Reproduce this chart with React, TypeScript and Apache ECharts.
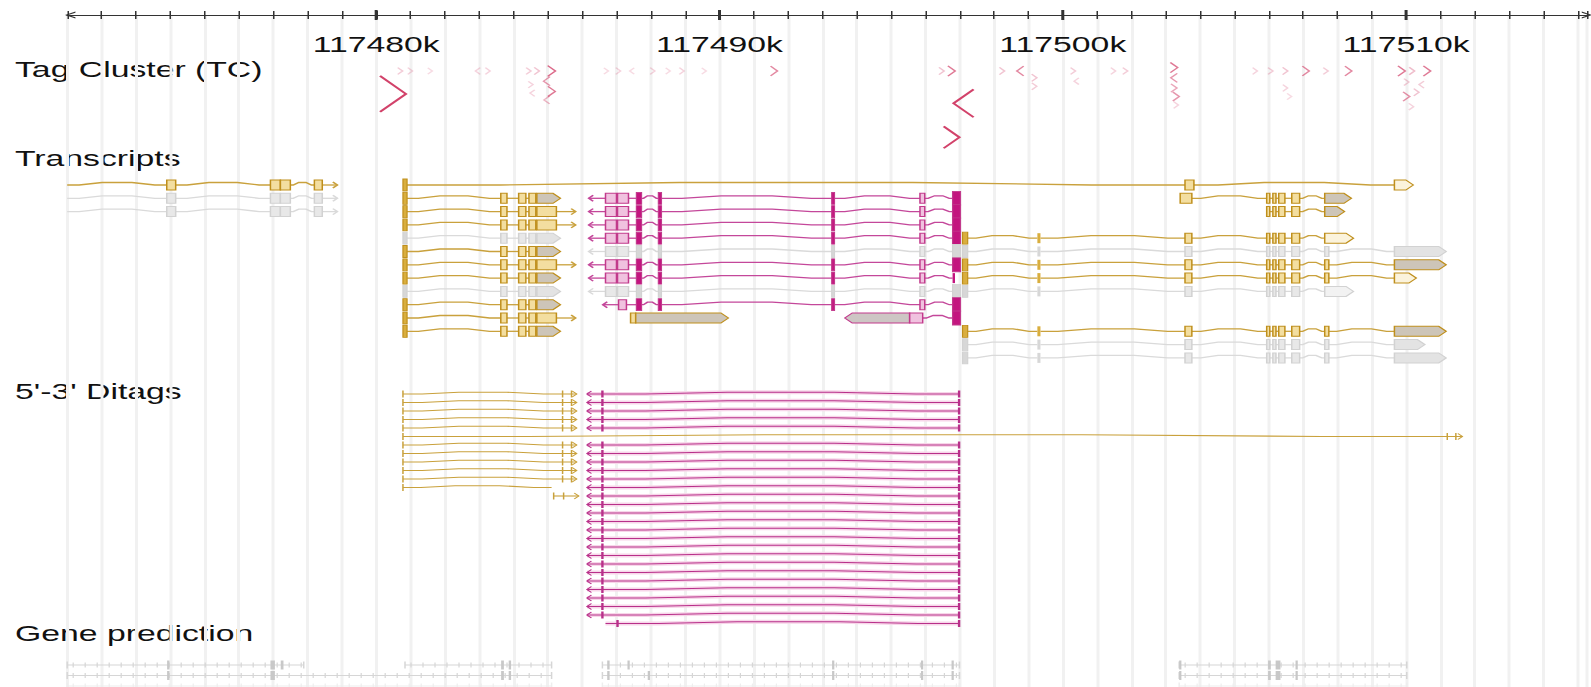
import React, { useEffect, useRef } from 'react';
import * as echarts from 'echarts';

type Exon = [number, number, string];

// ---------------- data ----------------
const AXIS_MIN = 117471;
const AXIS_MAX = 117515.27;
const majorTicks = [117480, 117490, 117500, 117510];
const trackNames = ['Tag Cluster (TC)', 'Transcripts', "5'-3' Ditags", 'Gene prediction'];

// tag clusters: [position kb, stack level, strand, tag count]
const tagClusters: [number, number, number, number][] = [
  [117480.49, 2.7, 1, 100], [117480.70, 0, 1, 3], [117480.99, 0, 1, 2], [117481.57, 0, 1, 1],
  [117482.96, 0, -1, 2], [117483.25, 0, 1, 2], [117484.44, 0, 1, 3], [117484.68, 0, 1, 4],
  [117485.11, 0, 1, 16], [117484.97, 1.2, -1, 10], [117485.11, 2.4, 1, 14], [117484.97, 3.4, -1, 6],
  [117484.50, 1.6, 1, 2], [117484.55, 2.6, -1, 2], [117486.70, 0, 1, 1], [117487.05, 0, 1, 2],
  [117487.45, 0, -1, 1], [117488.05, 0, 1, 2], [117488.50, 0, 1, 1], [117488.90, 0, 1, 2],
  [117489.55, 0, 1, 1], [117491.59, 0, 1, 12], [117496.47, 0, 1, 4], [117496.76, 0, 1, 14],
  [117497.11, 3.8, -1, 73], [117496.76, 7.8, 1, 53], [117498.23, 0, 1, 4], [117498.76, 0, -1, 12],
  [117499.17, 0.8, 1, 4], [117499.17, 1.8, 1, 3], [117500.30, 0, 1, 3], [117500.40, 1.2, -1, 2],
  [117501.47, 0, 1, 2], [117501.82, 0, 1, 3], [117503.24, -0.4, 1, 14], [117503.24, 0.8, -1, 10],
  [117503.24, 2.0, 1, 8], [117503.30, 3.0, 1, 10], [117503.30, 4.0, 1, 2], [117505.60, 0, 1, 2],
  [117506.05, 0, 1, 3], [117506.48, 0, 1, 4], [117507.08, 0, 1, 12], [117507.66, 0, 1, 3],
  [117508.32, 0, 1, 12], [117506.48, 2.0, 1, 2], [117506.60, 3.0, 1, 1], [117509.87, 0, 1, 14],
  [117510.17, 0, 1, 5], [117510.61, 0, 1, 14], [117510.01, 1.3, 1, 3], [117510.45, 1.6, -1, 3],
  [117510.30, 2.5, 1, 4], [117510.01, 3.0, 1, 11], [117510.15, 4.2, 1, 2],
];

// exon sets (kb start, kb end, kind)
const leftGroupExons: Exon[] = [
  [117473.90, 117474.16, 'b'], [117476.92, 117477.21, 'b'], [117477.21, 117477.50, 'b'], [117478.20, 117478.43, 'b'],
];
const goldHeadArrow: Exon[] = [
  [117480.78, 117480.90, 'f'], [117483.63, 117483.81, 'b'], [117484.15, 117484.36, 'b'],
  [117484.45, 117484.65, 'b'], [117484.68, 117485.37, 'a'],
];
const goldHeadOpen: Exon[] = [
  [117480.78, 117480.90, 'f'], [117483.63, 117483.81, 'b'], [117484.15, 117484.36, 'b'],
  [117484.45, 117484.65, 'b'], [117484.68, 117485.25, 'b'],
];
const pinkBody: Exon[] = [
  [117487.58, 117487.73, 'f'], [117488.22, 117488.31, 'f'], [117493.27, 117493.35, 'f'], [117495.84, 117495.98, 'b'],
];
const pinkFull: Exon[] = [[117486.68, 117487.00, 'b'], [117487.03, 117487.35, 'b'], ...pinkBody, [117496.79, 117497.02, 'F']];
const pinkThin: Exon[] = [[117486.68, 117487.00, 'b'], [117487.03, 117487.35, 'b'], ...pinkBody, [117496.79, 117496.86, 't']];
const pinkLate: Exon[] = [[117487.06, 117487.29, 'b'], ...pinkBody, [117496.79, 117497.02, 'F']];
const rightCore: Exon[] = [
  [117497.08, 117497.23, 'f'], [117499.26, 117499.35, 't'], [117503.56, 117503.76, 'b'],
  [117505.94, 117506.03, 'b'], [117506.12, 117506.21, 'b'], [117506.29, 117506.47, 'b'], [117506.67, 117506.90, 'b'],
];
const rightGroup: Exon[] = [
  [117505.94, 117506.03, 'b'], [117506.12, 117506.21, 'b'], [117506.29, 117506.47, 'b'], [117506.67, 117506.90, 'b'],
];
const rightLong: Exon[] = [...rightCore, [117507.63, 117507.75, 'b'], [117509.66, 117511.17, 'a']];
const rightShort: Exon[] = [...rightCore, [117507.63, 117507.75, 'b'], [117509.66, 117510.30, 'o']];
const rightShortFilled: Exon[] = [...rightCore, [117507.63, 117507.75, 'b'], [117509.66, 117510.55, 'a']];
const rightMid: Exon[] = [...rightCore, [117507.63, 117508.47, 'o']];
const longSpan: Exon[] = [[117480.78, 117480.90, 'f'], [117503.56, 117503.82, 'b'], [117509.66, 117510.21, 'o']];
const rightFirst: Exon[] = [[117503.42, 117503.76, 'b'], ...rightGroup, [117507.63, 117508.41, 'a']];
const rightSecond: Exon[] = [...rightGroup, [117507.63, 117508.21, 'a']];
const pencilPlus: Exon[] = [[117487.41, 117487.56, 'b'], [117487.56, 117490.26, 'a']];
const pencilMinus: Exon[] = [[117493.65, 117495.54, 'a'], [117495.54, 117495.92, 'b'], [117496.79, 117497.02, 'F']];

type Tx = { row: number; strand: number; color: string; exons: Exon[]; tail?: number; from?: number };
const transcripts: Tx[] = [
  { row: 0, strand: 1, color: 'gold', exons: leftGroupExons, from: AXIS_MIN, tail: 117478.87 },
  { row: 1, strand: 1, color: 'gray', exons: leftGroupExons, from: AXIS_MIN, tail: 117478.87 },
  { row: 2, strand: 1, color: 'gray', exons: leftGroupExons, from: AXIS_MIN, tail: 117478.87 },
  { row: 0, strand: 1, color: 'gold', exons: longSpan },
  { row: 1, strand: 1, color: 'gold', exons: goldHeadArrow },
  { row: 1, strand: -1, color: 'pink', exons: pinkFull, tail: 117486.19 },
  { row: 1, strand: 1, color: 'gold', exons: rightFirst },
  { row: 2, strand: 1, color: 'gold', exons: goldHeadOpen, tail: 117485.81 },
  { row: 2, strand: -1, color: 'pink', exons: pinkFull, tail: 117486.19 },
  { row: 2, strand: 1, color: 'gold', exons: rightSecond },
  { row: 3, strand: 1, color: 'gold', exons: goldHeadOpen, tail: 117485.81 },
  { row: 3, strand: -1, color: 'pink', exons: pinkFull, tail: 117486.19 },
  { row: 4, strand: 1, color: 'gray', exons: goldHeadArrow },
  { row: 4, strand: -1, color: 'pink', exons: pinkFull, tail: 117486.19 },
  { row: 4, strand: 1, color: 'gold', exons: rightMid },
  { row: 5, strand: 1, color: 'gold', exons: goldHeadArrow },
  { row: 5, strand: -1, color: 'gray', exons: pinkFull, tail: 117486.19 },
  { row: 5, strand: 1, color: 'gray', exons: rightLong },
  { row: 6, strand: 1, color: 'gold', exons: goldHeadOpen, tail: 117485.81 },
  { row: 6, strand: -1, color: 'pink', exons: pinkFull, tail: 117486.19 },
  { row: 6, strand: 1, color: 'gold', exons: rightLong },
  { row: 7, strand: 1, color: 'gold', exons: goldHeadArrow },
  { row: 7, strand: -1, color: 'pink', exons: pinkThin, tail: 117486.19 },
  { row: 7, strand: 1, color: 'gold', exons: rightShort },
  { row: 8, strand: 1, color: 'gray', exons: goldHeadArrow },
  { row: 8, strand: -1, color: 'gray', exons: pinkFull, tail: 117486.19 },
  { row: 8, strand: 1, color: 'gray', exons: rightMid },
  { row: 9, strand: 1, color: 'gold', exons: goldHeadArrow },
  { row: 9, strand: -1, color: 'pink', exons: pinkLate, tail: 117486.60 },
  { row: 10, strand: 1, color: 'gold', exons: goldHeadOpen, tail: 117485.81 },
  { row: 10, strand: 1, color: 'gold', exons: pencilPlus },
  { row: 10, strand: -1, color: 'pink', exons: pencilMinus },
  { row: 11, strand: 1, color: 'gold', exons: goldHeadArrow },
  { row: 11, strand: 1, color: 'gold', exons: rightLong },
  { row: 12, strand: 1, color: 'gray', exons: rightShortFilled },
  { row: 13, strand: 1, color: 'gray', exons: rightLong },
];

// ditags
const goldDitagRows = [0, 1, 2, 3, 4, 6, 7, 8, 9, 10];
const pinkDitagRows = [0, 1, 2, 3, 4, 6, 7, 8, 9, 10, 11, 12, 13, 14, 15, 16, 17, 18, 19, 20, 21, 22, 23, 24, 25, 26];
const goldDitag = { start: 117480.78, end: 117485.84, marks: [117480.78, 117485.43, 117485.69] };
const pinkDitag = { start: 117486.14, end: 117497.00, marks: [117486.59, 117496.98] };
type Ditag = { row: number; color: string; strand: number; start: number; end: number; marks: number[] };
const ditags: Ditag[] = [
  ...goldDitagRows.map((r) => ({ row: r, color: 'gold', strand: 1, ...goldDitag })),
  ...pinkDitagRows.map((r) => ({ row: r, color: 'pink', strand: -1, ...pinkDitag })),
  { row: 5, color: 'gold', strand: 1, start: 117480.78, end: 117511.64, marks: [117480.78, 117511.20, 117511.45] },
  { row: 11, color: 'gold', strand: 0, start: 117480.78, end: 117485.11, marks: [117480.78] },
  { row: 12, color: 'gold', strand: 1, start: 117485.17, end: 117485.90, marks: [117485.17, 117485.46] },
  { row: 27, color: 'pink', strand: 0, start: 117486.68, end: 117497.00, marks: [117487.03, 117496.98] },
];

// gene prediction: segments [row, start, end], exons [row, start, end]
const gpSegments: [number, number, number][] = [
  [0, 117471.00, 117477.89], [0, 117480.84, 117485.11], [0, 117486.59, 117496.99], [0, 117503.39, 117510.02],
  [1, 117471.00, 117485.11], [1, 117486.59, 117496.99], [1, 117503.39, 117510.02],
  [2, 117471.00, 117485.11], [2, 117486.59, 117496.99], [2, 117503.39, 117510.02],
];
const gpExons: [number, number, number][] = [
  [0, 117473.91, 117473.98], [0, 117476.92, 117477.05], [0, 117477.22, 117477.30], [0, 117483.64, 117483.72],
  [0, 117483.86, 117483.93], [0, 117486.73, 117486.80], [0, 117487.32, 117487.38], [0, 117493.28, 117493.34],
  [0, 117495.87, 117495.93], [0, 117496.76, 117496.82], [0, 117503.39, 117503.45], [0, 117505.98, 117506.06],
  [0, 117506.20, 117506.34], [0, 117506.78, 117506.84],
  [1, 117473.91, 117473.98], [1, 117476.92, 117477.05], [1, 117483.64, 117483.72], [1, 117483.86, 117483.93],
  [1, 117486.73, 117486.80], [1, 117487.91, 117487.97], [1, 117493.28, 117493.34], [1, 117495.87, 117495.93],
  [1, 117496.76, 117496.82], [1, 117503.39, 117503.45], [1, 117505.98, 117506.06], [1, 117506.20, 117506.34],
  [1, 117506.78, 117506.84],
];

// ---------------- layout & style ----------------
const SX = 1.5;
const PAGE_W = 1591;
const PAGE_H = 687;
const INNER_W = PAGE_W / SX;
const GRID_TOP = 15;
const GRID_LEFT = 67.2 / SX;
const GRID_H = PAGE_H - GRID_TOP;
const LABEL_CY = [69, 158, 391, 633];
const TC_Y0 = 71, TC_GAP = 8.5;
const TX_Y0 = 185, TX_GAP = 13.3;
const DT_Y0 = 394, DT_GAP = 8.5;
const GP_Y0 = 665, GP_GAP = 10.5;
const FONT = "'Liberation Sans', Arial, sans-serif";
const TAG_COLOR = '#d2426a';

const PAL: Record<string, any> = {
  gold: { line: '#c9a13c', stroke: '#bf8f1c', fill: '#f3dea0', solid: '#d9ae3e', arrow: '#cdc5b8', open: '#fbf3dc' },
  pink: { line: '#c4479a', stroke: '#c23a8c', fill: '#f0c2df', solid: '#c3157f', arrow: '#cdc6c4', open: '#fbe6f2' },
  gray: { line: '#dadada', stroke: '#d2d2d2', fill: '#e8e8e8', solid: '#d7d7d7', arrow: '#e3e3e3', open: '#f2f2f2' },
};

function hump(x1: number, x2: number, y: number, h: number) {
  const L = x2 - x1;
  if (L < 8) return [[x1, y], [x2, y]];
  return [[x1, y], [x1 + L * 0.12, y], [x1 + L * 0.35, y - h], [x2 - L * 0.35, y - h], [x2 - L * 0.12, y], [x2, y]];
}

function renderTag(params: any, api: any) {
  const [pos, level, strand, count] = tagClusters[params.dataIndex];
  const [x, y] = api.coord([pos, TC_Y0 + TC_GAP * level - GRID_TOP]);
  const h = 6 + count * 0.3;
  const w = h * 0.48;
  const a = Math.min(1, 0.15 + count / 25);
  const pts = strand > 0
    ? [[x - w / 2, y - h / 2], [x + w / 2, y], [x - w / 2, y + h / 2]]
    : [[x + w / 2, y - h / 2], [x - w / 2, y], [x + w / 2, y + h / 2]];
  return {
    type: 'polyline',
    shape: { points: pts },
    style: { stroke: TAG_COLOR, fill: null, lineWidth: h > 15 ? 1.7 : 1.2, opacity: a },
  };
}

function renderTranscript(params: any, api: any) {
  const t = transcripts[params.dataIndex];
  const c = PAL[t.color];
  const y = api.coord([AXIS_MIN, TX_Y0 + TX_GAP * t.row - GRID_TOP])[1];
  const X = (v: number) => api.coord([v, 0])[0];
  const ex = t.exons;
  const children: any[] = [];
  const lineStyle = { stroke: c.line, fill: null, lineWidth: 1.3 };
  if (t.from != null) {
    children.push({ type: 'polyline', shape: { points: hump(X(t.from), X(ex[0][0]), y, 2.5) }, style: lineStyle });
  }
  for (let i = 0; i < ex.length - 1; i++) {
    const x1 = X(ex[i][1]);
    const x2 = X(ex[i + 1][0]);
    if (x2 - x1 > 0.5) children.push({ type: 'polyline', shape: { points: hump(x1, x2, y, 2.5) }, style: lineStyle });
  }
  if (t.tail != null) {
    const x1 = t.strand > 0 ? X(ex[ex.length - 1][1]) : X(ex[0][0]);
    const x2 = X(t.tail);
    const d = t.strand > 0 ? -3 : 3;
    children.push({ type: 'line', shape: { x1, y1: y, x2, y2: y }, style: lineStyle });
    children.push({ type: 'polyline', shape: { points: [[x2 + d, y - 3], [x2, y], [x2 + d, y + 3]] }, style: lineStyle });
  }
  ex.forEach(([s, e, k]) => {
    const x1 = X(s);
    const x2 = Math.max(X(e), x1 + 1.6);
    const w = x2 - x1;
    if (k === 'a' || k === 'o') {
      const d = Math.min(5, w * 0.5);
      const pts = t.strand > 0
        ? [[x1, y - 5], [x2 - d, y - 5], [x2, y], [x2 - d, y + 5], [x1, y + 5]]
        : [[x2, y - 5], [x1 + d, y - 5], [x1, y], [x1 + d, y + 5], [x2, y + 5]];
      children.push({ type: 'polygon', shape: { points: pts }, style: { fill: k === 'a' ? c.arrow : c.open, stroke: c.stroke, lineWidth: 1 } });
    } else if (k === 'F') {
      children.push({ type: 'rect', shape: { x: x1, y: y - 7, width: w, height: 14 }, style: { fill: c.solid, stroke: c.stroke, lineWidth: 0.8 } });
    } else if (k === 'f') {
      children.push({ type: 'rect', shape: { x: x1, y: y - 6, width: w, height: 12 }, style: { fill: c.solid, stroke: c.stroke, lineWidth: 0.8 } });
    } else if (k === 't') {
      children.push({ type: 'rect', shape: { x: x1, y: y - 5, width: Math.max(w, 1.4), height: 10 }, style: { fill: c.solid } });
    } else {
      children.push({ type: 'rect', shape: { x: x1, y: y - 5, width: w, height: 10 }, style: { fill: c.fill, stroke: c.stroke, lineWidth: 1 } });
    }
  });
  return { type: 'group', children };
}

function renderDitag(params: any, api: any) {
  const d = ditags[params.dataIndex];
  const y = api.coord([AXIS_MIN, DT_Y0 + DT_GAP * d.row - GRID_TOP])[1];
  const X = (v: number) => api.coord([v, 0])[0];
  const col = d.color === 'gold' ? '#c9a13c' : '#b8308a';
  const children: any[] = [];
  const xs = X(d.start);
  const xe = X(d.end);
  const m0 = X(d.marks[0]);
  const m1 = d.marks.length > 1 ? X(d.marks[1]) : xe;
  const pts = [[xs, y], ...hump(m0, m1, y, 1.8), [xe, y]];
  if (d.color === 'pink') {
    children.push({ type: 'polyline', shape: { points: pts }, style: { stroke: '#f7d6e9', fill: null, lineWidth: 4 } });
  }
  children.push({ type: 'polyline', shape: { points: pts }, style: { stroke: col, fill: null, lineWidth: 1.1 } });
  d.marks.forEach((m) => {
    const x = X(m);
    const bold = d.color === 'pink';
    children.push({ type: 'line', shape: { x1: x, y1: y - 3.5, x2: x, y2: y + 3.5 }, style: { stroke: col, lineWidth: bold ? 1.6 : 1 } });
  });
  if (d.strand !== 0) {
    const tip = d.strand > 0 ? xe : xs;
    const k = d.strand > 0 ? -3 : 3;
    children.push({ type: 'polyline', shape: { points: [[tip + k, y - 3], [tip, y], [tip + k, y + 3]] }, style: { stroke: col, fill: null, lineWidth: 1 } });
  }
  return { type: 'group', children };
}

function renderGeneSeg(params: any, api: any) {
  const [row, s, e] = gpSegments[params.dataIndex];
  const y = api.coord([AXIS_MIN, GP_Y0 + GP_GAP * row - GRID_TOP])[1];
  const x1 = api.coord([s, 0])[0];
  const x2 = api.coord([e, 0])[0];
  const col = row === 2 ? '#eeeeee' : '#d6d6d6';
  const children: any[] = [{ type: 'line', shape: { x1, y1: y, x2, y2: y }, style: { stroke: col, lineWidth: 1 } }];
  for (let x = x1 + 4; x < x2 - 1; x += 8) {
    children.push({ type: 'line', shape: { x1: x, y1: y - 2.5, x2: x, y2: y + 2.5 }, style: { stroke: col, lineWidth: 0.8 } });
  }
  children.push({ type: 'line', shape: { x1, y1: y - 3.5, x2: x1, y2: y + 3.5 }, style: { stroke: col, lineWidth: 1 } });
  children.push({ type: 'line', shape: { x1: x2, y1: y - 3.5, x2, y2: y + 3.5 }, style: { stroke: col, lineWidth: 1 } });
  return { type: 'group', children };
}

function renderGeneExon(params: any, api: any) {
  const [row, s, e] = gpExons[params.dataIndex];
  const y = api.coord([AXIS_MIN, GP_Y0 + GP_GAP * row - GRID_TOP])[1];
  const x1 = api.coord([s, 0])[0];
  const x2 = Math.max(api.coord([e, 0])[0], x1 + 1.5);
  return { type: 'rect', shape: { x: x1, y: y - 4.5, width: x2 - x1, height: 9 }, style: { fill: '#c8c8c8' } };
}

function renderMajorTick(params: any, api: any) {
  const [x, y] = api.coord([majorTicks[params.dataIndex], 0]);
  return { type: 'rect', shape: { x: x - 1, y: y - 5, width: 2, height: 10 }, style: { fill: '#333' } };
}

function buildOption(): any {
  const custom = (name: string, renderItem: any, data: any[], z: number) => ({
    type: 'custom', name, renderItem, data, silent: true, clip: false, z, xAxisIndex: 0, yAxisIndex: 0,
  });
  const arrowPath = 'path://M0,10 L5,0 L10,10 L8.3,10 L5,3.2 L1.7,10 Z';
  return {
    animation: false,
    backgroundColor: '#ffffff',
    grid: { left: GRID_LEFT, right: 0, top: GRID_TOP, bottom: 0 },
    xAxis: [
      {
        type: 'value', position: 'top', min: AXIS_MIN, max: AXIS_MAX, interval: 1,
        axisLine: {
          show: true,
          lineStyle: { color: '#333', width: 1.2 },
          symbol: [arrowPath, arrowPath],
          symbolSize: [12, 7],
          symbolOffset: [2, 0],
        },
        axisTick: { show: true, length: 4, lineStyle: { color: '#333', width: 1 } },
        axisLabel: {
          inside: true, margin: 18, fontSize: 22.5, fontFamily: FONT, color: '#111',
          formatter: (v: number) => {
            const r = Math.round(v);
            return Math.abs(v - r) < 1e-6 && r % 10 === 0 ? `${r}k` : '';
          },
        },
        splitLine: { show: true, lineStyle: { color: '#f1f1f1', width: 2 } },
      },
      {
        type: 'value', position: 'top', min: AXIS_MIN, max: AXIS_MAX, interval: 1,
        axisLine: { show: false },
        axisTick: { show: true, inside: true, length: 4, lineStyle: { color: '#333', width: 1 } },
        axisLabel: { show: false },
        splitLine: { show: false },
      },
    ],
    yAxis: { type: 'value', min: 0, max: GRID_H, inverse: true, show: false },
    graphic: trackNames.map((name, i) => ({
      type: 'text', x: 10, y: LABEL_CY[i], silent: true,
      style: { text: name, fontSize: 22.5, fontFamily: FONT, fill: '#111', verticalAlign: 'middle', align: 'left' },
    })),
    series: [
      custom('majorTicks', renderMajorTick, majorTicks.map((v) => [v, 0]), 5),
      custom('tags', renderTag, tagClusters.map((t) => [t[0], 0]), 3),
      custom('transcripts', renderTranscript, transcripts.map((t) => [t.exons[0][0], t.row]), 3),
      custom('ditags', renderDitag, ditags.map((d) => [d.start, d.row]), 3),
      custom('geneSegments', renderGeneSeg, gpSegments.map((g) => [g[1], g[0]]), 3),
      custom('geneExons', renderGeneExon, gpExons.map((g) => [g[1], g[0]]), 4),
    ],
  };
}

export default function App() {
  const ref = useRef<HTMLDivElement>(null);
  useEffect(() => {
    document.body.style.margin = '0';
    const chart = echarts.init(ref.current as HTMLDivElement, null, { renderer: 'svg' });
    chart.setOption(buildOption());
    return () => chart.dispose();
  }, []);
  return (
    <div
      ref={ref}
      style={{
        position: 'absolute', left: 0, top: 0, width: INNER_W, height: PAGE_H,
        transform: `scaleX(${SX})`, transformOrigin: '0 0', background: '#fff',
      }}
    />
  );
}
